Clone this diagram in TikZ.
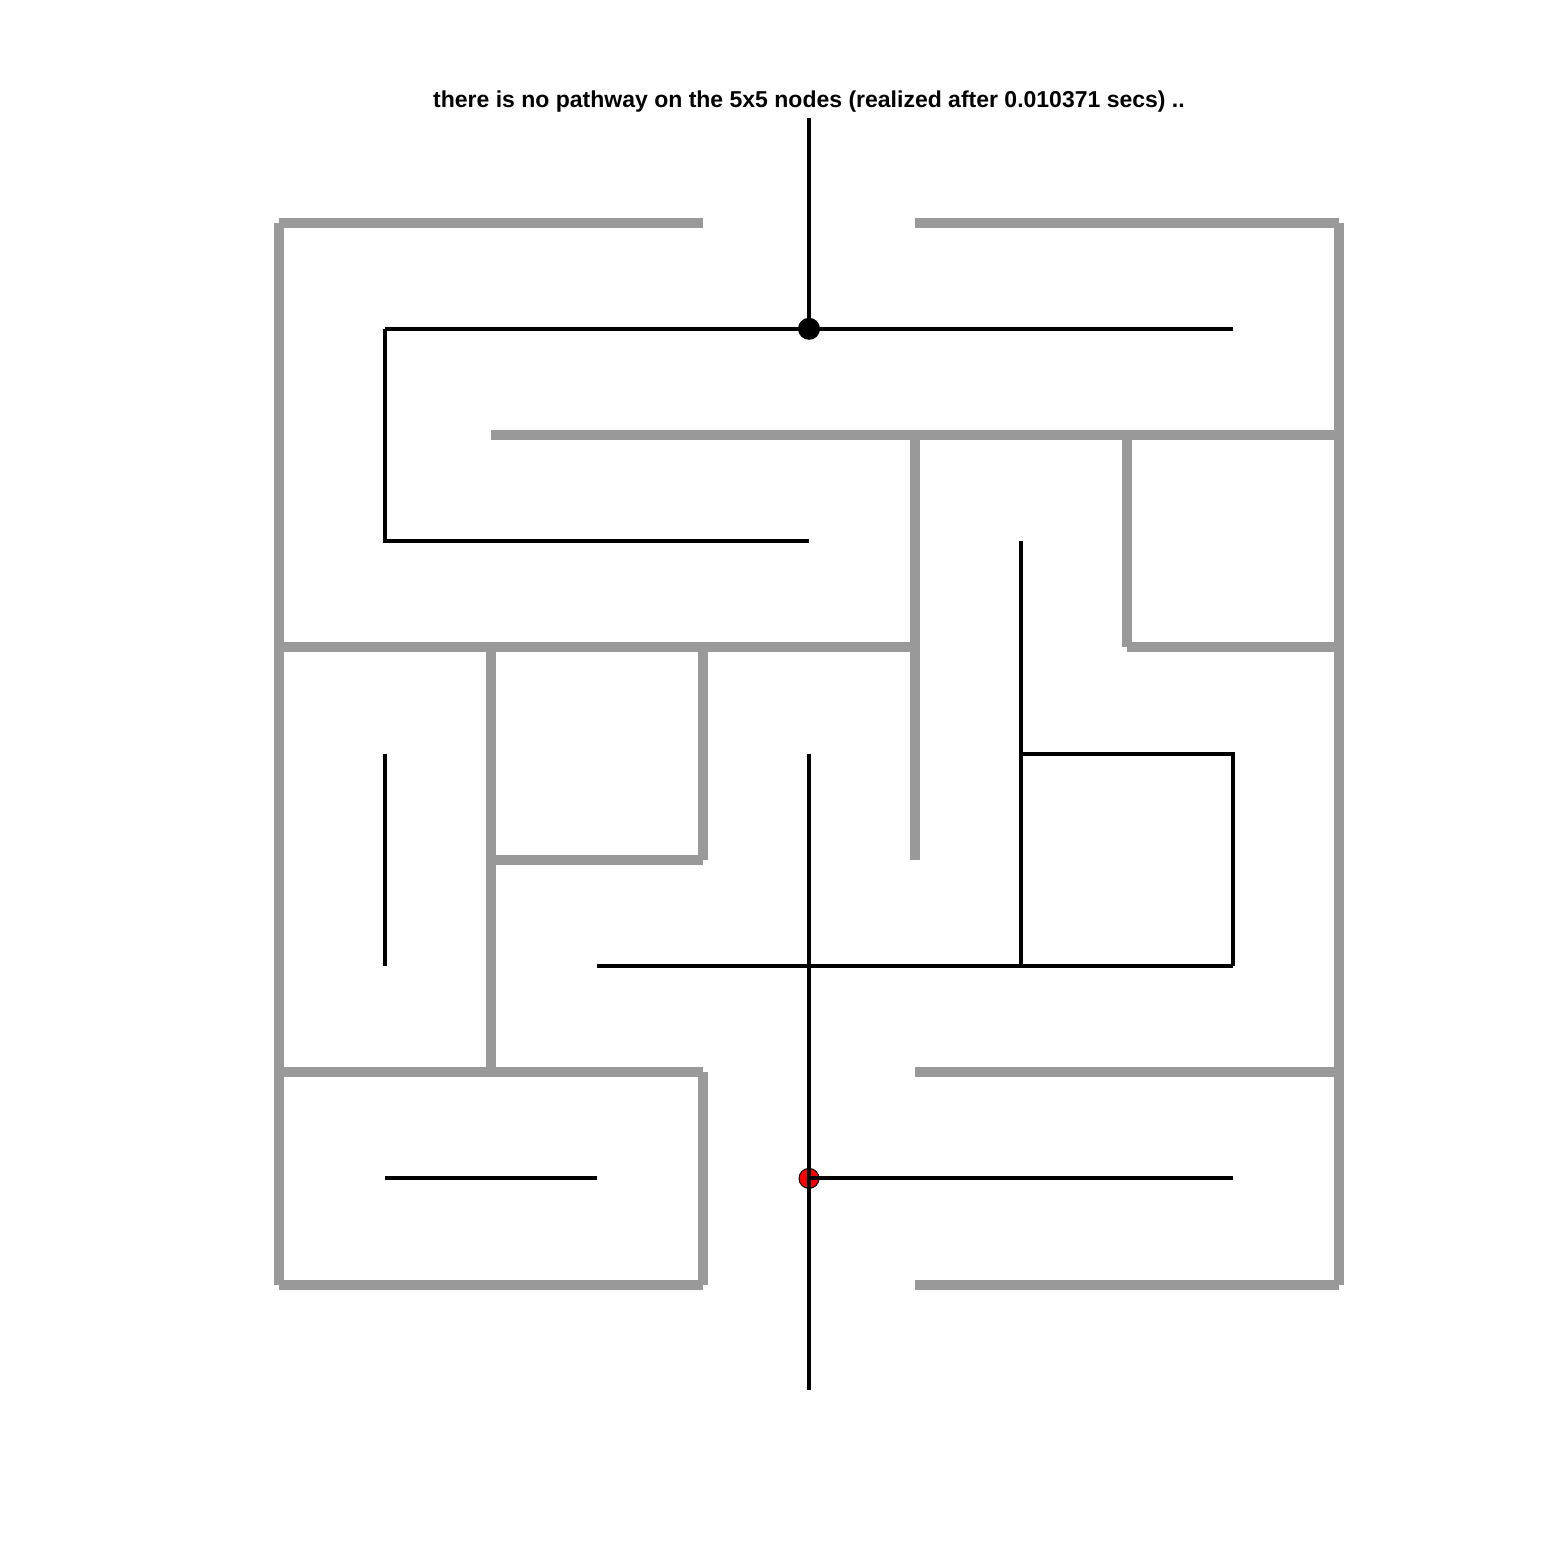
\documentclass[tikz,border=0pt]{standalone}
\usepackage{fontspec}
\setmainfont{Liberation Sans}
\definecolor{wallgray}{HTML}{999999}
\definecolor{dotred}{HTML}{FF0000}
\begin{document}
\begin{tikzpicture}[x=0.5pt,y=-0.5pt,
  wall/.style={draw=wallgray,line width=5pt,line cap=butt},
  path/.style={draw=black,line width=2pt},
  titletext/.style={font=\bfseries\fontsize{11.5}{13}\selectfont,inner sep=0pt},
  startdot/.style={circle,fill=black,minimum size=11pt,inner sep=0pt},
  enddot/.style={circle,fill=dotred,draw=black,line width=0.5pt,minimum size=10pt,inner sep=0pt}]
\useasboundingbox (0,0) rectangle (1563,1563);
% grid points and cell centres
\foreach \i in {0,...,5}{\foreach \j in {0,...,5}{
  \coordinate (g-\i-\j) at ({279+212*\i},{222.5+212.4*\j});}}
\foreach \i in {0,...,4}{\foreach \j in {0,...,4}{
  \coordinate (c-\i-\j) at ({385+212*\i},{328.8+212.4*\j});}}
\coordinate (entry) at (809,118);
\coordinate (exit) at (809,1390);
% walls (unit segments)
\foreach \a/\b in {0-0/1-0,1-0/2-0,3-0/4-0,4-0/5-0,
  0-0/0-1,0-1/0-2,0-2/0-3,0-3/0-4,0-4/0-5,
  5-0/5-1,5-1/5-2,5-2/5-3,5-3/5-4,5-4/5-5,
  1-1/2-1,2-1/3-1,3-1/4-1,4-1/5-1,
  3-1/3-2,3-2/3-3,
  4-1/4-2,
  4-2/5-2,0-2/1-2,1-2/2-2,2-2/3-2,
  1-2/1-3,1-3/1-4,
  2-2/2-3,
  1-3/2-3,
  0-4/1-4,1-4/2-4,3-4/4-4,4-4/5-4,
  2-4/2-5,
  0-5/1-5,1-5/2-5,3-5/4-5,4-5/5-5}
  {\draw[wall] (g-\a) -- (g-\b);}
% end marker under the path
\node[enddot] (goal) at (c-2-4) {};
% path lines
\draw[path] (entry) -- (c-2-0);
\draw[path] (c-0-0) -- (c-4-0);
\draw[path] (c-0-0) -- (c-0-1) -- (c-2-1);
\draw[path] (c-3-1) -- (c-3-3);
\draw[path] (c-3-2) -- (c-4-2) -- (c-4-3);
\draw[path] (c-1-3) -- (c-4-3);
\draw[path] (c-2-2) -- (exit);
\draw[path] (c-0-2) -- (c-0-3);
\draw[path] (c-0-4) -- (c-1-4);
\draw[path] (c-2-4) -- (c-4-4);
\node[startdot] (start) at (c-2-0) {};
\node[titletext] (title) at (809,102) {there is no pathway on the 5x5 nodes (realized after 0.010371 secs) ..};
\end{tikzpicture}
\end{document}
